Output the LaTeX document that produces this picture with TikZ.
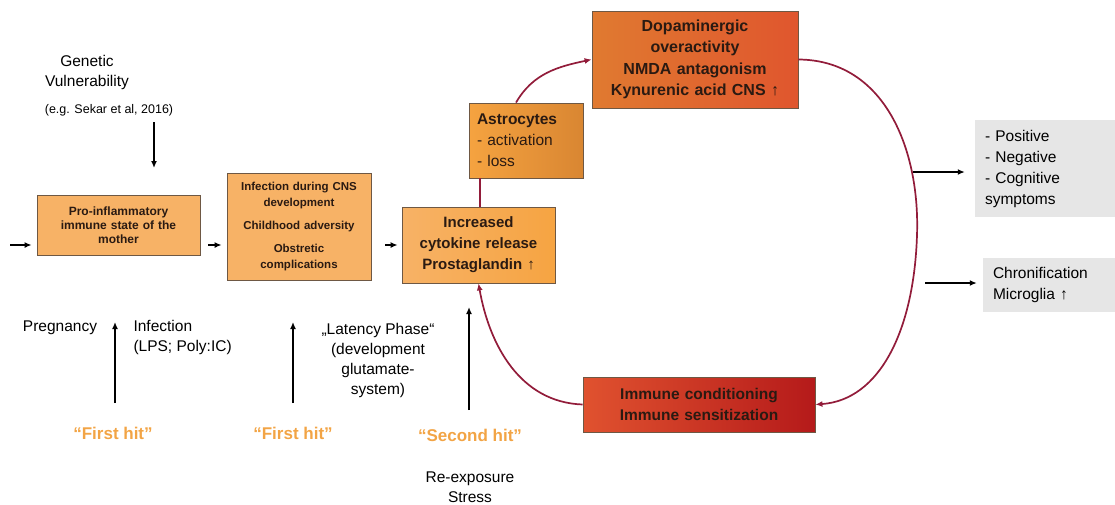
\documentclass[tikz,border=0pt]{standalone}
\usepackage{fontspec}
\setmainfont{Liberation Sans}
\usetikzlibrary{arrows.meta,positioning}

\definecolor{boxline}{HTML}{6E5844}
\definecolor{paleorange}{HTML}{F7B266}
\definecolor{cytoright}{HTML}{F6A442}
\definecolor{astroleft}{HTML}{F5A340}
\definecolor{astroright}{HTML}{D98632}
\definecolor{dopaleft}{HTML}{E07A30}
\definecolor{doparight}{HTML}{E0562E}
\definecolor{immuneleft}{HTML}{E0522F}
\definecolor{immuneright}{HTML}{B51A1A}
\definecolor{boxtext}{HTML}{2A1A12}
\definecolor{loopred}{HTML}{921C3A}
\definecolor{hitorange}{HTML}{F2A445}
\definecolor{symptgray}{HTML}{E6E6E6}

\tikzset{
  box/.style={draw=boxline, line width=0.8pt, align=center, inner sep=3pt, text=boxtext},
  grey box/.style={fill=symptgray, align=left, inner xsep=10pt, font=\fontsize{15.5}{21}\selectfont},
  note/.style={align=center, font=\fontsize{15.5}{20}\selectfont},
  hit/.style={font=\fontsize{17}{20}\selectfont\bfseries, text=hitorange},
  arr/.style={-{Latex[length=7pt,width=6pt]}, line width=1.8pt},
  loopline/.style={draw=loopred, line width=1.7pt},
  looparr/.style={loopline, -{Latex[length=7pt,width=6pt]}},
}

\begin{document}
\begin{tikzpicture}[x=1pt,y=-1pt]
\useasboundingbox (0,0) rectangle (1115,504);

% first hit chain
\node[box, fill=paleorange, minimum width=163pt, minimum height=60pt, text width=150pt,
  font=\fontsize{12}{14}\selectfont\bfseries] (mother) at (118.5,225)
  {Pro-inflammatory\\immune state of the\\mother};
\node[box, fill=paleorange, minimum width=144pt, minimum height=107pt, text width=136pt,
  font=\fontsize{11.5}{16}\selectfont\bfseries] (cns) at (299,226.5)
  {Infection during CNS\\development\\[7pt]Childhood adversity\\[7pt]Obstretic\\complications};
\node[box, left color=paleorange, right color=cytoright, minimum width=153pt, minimum height=76pt,
  text width=145pt, font=\fontsize{15}{21}\selectfont\bfseries] (cyto) at (478.5,245)
  {Increased\\cytokine release\\Prostaglandin ↑};

% loop boxes
\node[box, left color=astroleft, right color=astroright, minimum width=114pt, minimum height=75pt,
  text width=98pt, align=left, font=\fontsize{15.5}{21}\selectfont] (astro) at (526,140.5)
  {\textbf{Astrocytes}\\- activation\\- loss};
\node[box, left color=dopaleft, right color=doparight, minimum width=206pt, minimum height=97pt,
  text width=198pt, font=\fontsize{16}{21.5}\selectfont\bfseries] (dopa) at (695,59.5)
  {Dopaminergic\\overactivity\\NMDA antagonism\\Kynurenic acid CNS ↑};
\node[box, left color=immuneleft, right color=immuneright, minimum width=232pt, minimum height=55pt,
  text width=224pt, font=\fontsize{15.5}{21}\selectfont\bfseries] (immune) at (699,404.5)
  {Immune conditioning\\Immune sensitization};

% outcomes
\node[grey box, minimum width=140pt, minimum height=97pt, text width=120pt] (sympt) at (1045,168.5)
  {- Positive\\- Negative\\- Cognitive\\symptoms};
\node[grey box, minimum width=132pt, minimum height=54pt, text width=112pt] (chron) at (1049,285)
  {Chronification\\Microglia ↑};

% side texts
\node[note] (genetic) at (87,72) {Genetic\\Vulnerability};
\node[note, font=\fontsize{12.5}{15}\selectfont] (sekar) at (109,110) {(e.g. Sekar et al, 2016)};
\node[note] (preg) at (60,328) {Pregnancy};
\node[note, align=left, anchor=north west] (infect) at (130,317) {Infection\\(LPS; Poly:IC)};
\node[note] (latency) at (378,360) {„Latency Phase“\\(development\\glutamate-\\system)};
\node[hit] (hitA) at (113,433) {``First hit''};
\node[hit] (hitB) at (293,433) {``First hit''};
\node[hit] (hitC) at (470,435) {``Second hit''};
\node[note] (reexp) at (470,487) {Re-exposure\\Stress};

% black arrows
\coordinate (row) at (0,245);
\coordinate (entry) at (10,245);
\draw[arr, shorten >=5pt] (entry) -- (mother.west |- row);
\draw[arr, shorten <=8pt, shorten >=5pt] (mother.east |- row) -- (cns.west |- row);
\draw[arr, shorten <=14pt, shorten >=4pt] (cns.east |- row) -- (cyto.west |- row);
\coordinate (gtop) at (154,122);
\coordinate (gbot) at (154,168);
\draw[arr] (gtop) -- (gbot);
\foreach \x/\lo/\hi/\n in {115/403/322/a, 293/403/322/b, 469/410/307/c}{
  \coordinate (lo\n) at (\x,\lo);
  \coordinate (hi\n) at (\x,\hi);
  \draw[arr] (lo\n) -- (hi\n);
}
\coordinate (s1) at (913,172);
\coordinate (c1) at (925,283);
\draw[arr, shorten >=10pt] (s1) -- (sympt.west |- s1);
\draw[arr, shorten >=6pt] (c1) -- (chron.west |- c1);

% vicious circle
\coordinate (link) at (480,0);
\draw[loopline] (link |- cyto.north) -- (link |- astro.south);
\draw[looparr] ([xshift=-10pt]astro.north) to[out=60, in=192] (dopa.west);
\draw[looparr] (dopa.east) .. controls (885,60) and (920,150) .. (917,235)
  .. controls (914,330) and (880,400) .. (immune.east);
\draw[looparr] (immune.west) to[out=178, in=-80] (cyto.south);
\end{tikzpicture}
\end{document}
